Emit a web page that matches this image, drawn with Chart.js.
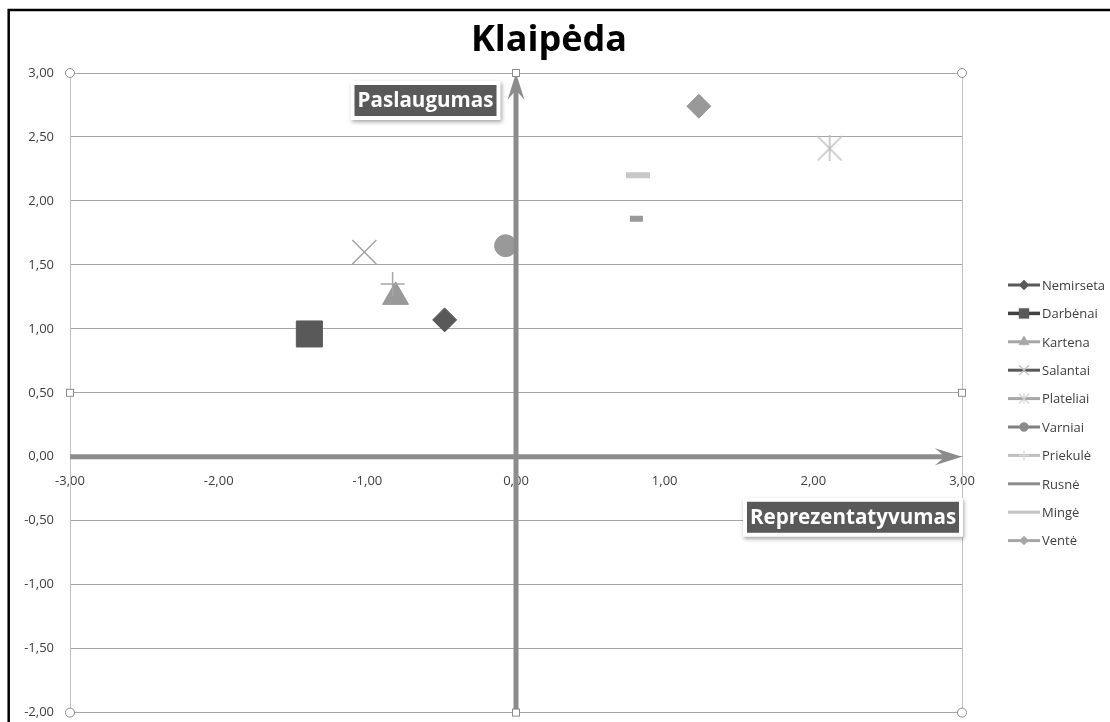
<!DOCTYPE html>
<html>
<head>
<meta charset="utf-8">
<title>Klaipėda</title>
<script src="https://cdn.jsdelivr.net/npm/chart.js@4.4.1/dist/chart.umd.min.js"></script>
<style>
  html, body { margin: 0; padding: 0; background: #fff; overflow: hidden; }
  canvas { display: block; }
</style>
</head>
<body>
<canvas id="klaipedaChart" width="1110" height="732"></canvas>
<script>
// data
const chartTitle = 'Klaipėda';
const xAxisName = 'Reprezentatyvumas';
const yAxisName = 'Paslaugumas';
const seriesNames = ['Nemirseta', 'Darbėnai', 'Kartena', 'Salantai', 'Plateliai', 'Varniai', 'Priekulė', 'Rusnė', 'Mingė', 'Ventė'];
const reprezentatyvumas = [-0.48, -1.39, -0.81, -1.02, 2.11, -0.07, -0.83, 0.81, 0.82, 1.23];
const paslaugumas = [1.07, 0.96, 1.25, 1.60, 2.41, 1.65, 1.35, 1.86, 2.20, 2.74];
const xRange = [-3, 3, 1];     // min, max, step
const yRange = [-2, 3, 0.5];

const fmt = v => v.toFixed(2).replace('.', ',');

// small asterisk marker (X with a vertical bar)
function makeAsterisk(color) {
    const c = document.createElement('canvas');
    c.width = 26; c.height = 26;
    const g = c.getContext('2d');
    g.strokeStyle = color;
    g.lineWidth = 1.5;
    g.beginPath();
    g.moveTo(1, 1); g.lineTo(25, 25);
    g.moveTo(25, 1); g.lineTo(1, 25);
    g.moveTo(13, 0); g.lineTo(13, 26);
    g.stroke();
    return c;
}

// marker styles, one per series
const markers = [
    { style: 'rectRot', radius: 12, fill: '#595959', stroke: '#595959', width: 1 },
    { style: 'rect', radius: 18.4, fill: '#595959', stroke: '#595959', width: 1 },
    { style: 'triangle', radius: 15, fill: '#999999', stroke: '#999999', width: 1 },
    { style: 'crossRot', radius: 17, fill: 'rgba(0,0,0,0)', stroke: '#a6a6a6', width: 1.5 },
    { style: makeAsterisk('#bfbfbf'), radius: 13, fill: 'rgba(0,0,0,0)', stroke: '#bfbfbf', width: 1.5 },
    { style: 'circle', radius: 11, fill: '#999999', stroke: '#999999', width: 1 },
    { style: 'cross', radius: 12, fill: 'rgba(0,0,0,0)', stroke: '#a6a6a6', width: 1.5 },
    { style: 'line', radius: 6.5, fill: '#999999', stroke: '#999999', width: 6 },
    { style: 'line', radius: 12, fill: '#c8c8c8', stroke: '#c8c8c8', width: 6 },
    { style: 'rectRot', radius: 12, fill: '#999999', stroke: '#999999', width: 1 }
];
const legendLines = ['#595959', '#404040', '#a6a6a6', '#595959', '#a6a6a6', '#7f7f7f', '#bfbfbf', '#8c8c8c', '#c4c4c4', '#a6a6a6'];
const legendMarkers = [
    { style: 'rectRot', radius: 5, fill: '#595959' },
    { style: 'rect', radius: 7, fill: '#595959' },
    { style: 'triangle', radius: 6, fill: '#a6a6a6' },
    { style: 'crossRot', radius: 7, stroke: '#bfbfbf' },
    { style: 'crossRot', radius: 7, stroke: '#d0d0d0' },
    { style: 'circle', radius: 4.5, fill: '#8c8c8c' },
    { style: 'cross', radius: 5, stroke: '#d9d9d9' },
    null,
    null,
    { style: 'rectRot', radius: 4.5, fill: '#a6a6a6' }
];

const FONT = "'Open Sans', 'Liberation Sans', sans-serif";

function drawArrow(ctx, x1, y1, x2, y2) {
    const ang = Math.atan2(y2 - y1, x2 - x1);
    const len = 27, half = 8.5, notch = 17;
    ctx.save();
    ctx.strokeStyle = '#8c8c8c';
    ctx.fillStyle = '#8c8c8c';
    ctx.lineWidth = 5;
    ctx.beginPath();
    ctx.moveTo(x1, y1);
    ctx.lineTo(x2 - Math.cos(ang) * notch, y2 - Math.sin(ang) * notch);
    ctx.stroke();
    ctx.translate(x2, y2);
    ctx.rotate(ang);
    ctx.beginPath();
    ctx.moveTo(0, 0);
    ctx.lineTo(-len, -half);
    ctx.lineTo(-notch, 0);
    ctx.lineTo(-len, half);
    ctx.closePath();
    ctx.fill();
    ctx.restore();
}

function drawTag(ctx, text, right, top, w, h) {
    const left = right - w;
    ctx.save();
    ctx.shadowColor = 'rgba(0,0,0,0.35)';
    ctx.shadowBlur = 4;
    ctx.shadowOffsetX = 1;
    ctx.shadowOffsetY = 2;
    ctx.fillStyle = '#ffffff';
    ctx.fillRect(left - 4, top - 4, w + 8, h + 8);
    ctx.restore();
    ctx.save();
    ctx.fillStyle = '#595959';
    ctx.fillRect(left, top, w, h);
    let size = 20;
    ctx.font = 'bold ' + size + 'px ' + FONT;
    size = size * (w - 6) / ctx.measureText(text).width;
    ctx.font = 'bold ' + size.toFixed(1) + 'px ' + FONT;
    ctx.fillStyle = '#ffffff';
    ctx.textAlign = 'center';
    ctx.textBaseline = 'middle';
    ctx.fillText(text, left + w / 2, top + h / 2 + 1);
    ctx.restore();
}

const decorPlugin = {
    id: 'decor',
    beforeDatasetsDraw(chart) {
        const { ctx, chartArea: a } = chart;
        ctx.save();
        ctx.strokeStyle = '#c0c0c0';
        ctx.lineWidth = 1;
        ctx.beginPath();
        ctx.moveTo(a.left + 0.5, a.top); ctx.lineTo(a.left + 0.5, a.bottom);
        ctx.moveTo(a.right + 0.5, a.top); ctx.lineTo(a.right + 0.5, a.bottom);
        ctx.stroke();
        ctx.restore();
    },
    afterDatasetsDraw(chart) {
        const { ctx, chartArea: a, scales } = chart;
        const x0 = scales.x.getPixelForValue(0);
        const y0 = scales.y.getPixelForValue(0);
        drawArrow(ctx, a.left, y0, a.right, y0);
        drawArrow(ctx, x0, a.bottom, x0, a.top);

        // selection handles round the plot area
        ctx.save();
        ctx.strokeStyle = '#8c8c8c';
        ctx.fillStyle = '#ffffff';
        ctx.lineWidth = 1;
        const midX = (a.left + a.right) / 2, midY = (a.top + a.bottom) / 2;
        [[a.left, a.top], [a.right, a.top], [a.left, a.bottom], [a.right, a.bottom]].forEach(([x, y]) => {
            ctx.beginPath();
            ctx.arc(x, y, 4.5, 0, Math.PI * 2);
            ctx.fill(); ctx.stroke();
        });
        [[midX, a.top], [midX, a.bottom], [a.left, midY], [a.right, midY]].forEach(([x, y]) => {
            ctx.fillRect(x - 3.5, y - 3.5, 7, 7);
            ctx.strokeRect(x - 3.5, y - 3.5, 7, 7);
        });
        ctx.restore();

        drawTag(ctx, yAxisName, x0 - 19.5, a.top + 12, 142, 31);
        drawTag(ctx, xAxisName, a.right - 3, y0 + 45, 212, 31);
    },
    afterDraw(chart) {
        const { ctx } = chart;
        // title
        ctx.save();
        ctx.font = 'bold 36px ' + FONT;
        ctx.fillStyle = '#000000';
        ctx.textAlign = 'center';
        ctx.textBaseline = 'alphabetic';
        ctx.fillText(chartTitle, 549, 51);
        ctx.restore();

        // legend
        ctx.save();
        ctx.font = '13px ' + FONT;
        ctx.textBaseline = 'middle';
        ctx.textAlign = 'left';
        seriesNames.forEach((name, i) => {
            const y = 285 + i * 28.4;
            ctx.strokeStyle = legendLines[i];
            ctx.lineWidth = i === 1 ? 3.5 : 3;
            ctx.beginPath();
            ctx.moveTo(1008, y); ctx.lineTo(1040, y);
            ctx.stroke();
            const m = legendMarkers[i];
            if (m) {
                ctx.fillStyle = m.fill || 'rgba(0,0,0,0)';
                ctx.strokeStyle = m.stroke || m.fill;
                ctx.lineWidth = m.stroke ? 1.2 : 0.5;
                Chart.helpers.drawPoint(ctx, { pointStyle: m.style, radius: m.radius, rotation: 0, borderWidth: ctx.lineWidth }, 1024, y);
                if (i === 4) {
                    ctx.beginPath();
                    ctx.moveTo(1024, y - 5); ctx.lineTo(1024, y + 5);
                    ctx.stroke();
                }
            }
            ctx.fillStyle = '#404040';
            ctx.fillText(name, 1042, y + 1);
        });
        ctx.restore();

        // outer frame (top and left edges)
        ctx.save();
        ctx.strokeStyle = '#000000';
        ctx.lineWidth = 2.5;
        ctx.beginPath();
        ctx.moveTo(8.7, 732); ctx.lineTo(8.7, 10); ctx.lineTo(1110, 10);
        ctx.stroke();
        ctx.restore();
    }
};

const datasets = seriesNames.map((name, i) => ({
    label: name,
    data: [{ x: reprezentatyvumas[i], y: paslaugumas[i] }],
    pointStyle: markers[i].style,
    pointRadius: markers[i].radius,
    pointHoverRadius: markers[i].radius,
    pointBackgroundColor: markers[i].fill,
    pointBorderColor: markers[i].stroke,
    pointBorderWidth: markers[i].width,
    order: -i,
    showLine: false
}));

const ctx = document.getElementById('klaipedaChart').getContext('2d');
new Chart(ctx, {
    type: 'scatter',
    data: { datasets: datasets },
    options: {
        responsive: false,
        animation: false,
        layout: { padding: { left: 0, top: 73, right: 148, bottom: 0 } },
        plugins: {
            legend: { display: false },
            title: { display: false },
            tooltip: { enabled: false }
        },
        scales: {
            x: {
                type: 'linear',
                position: { y: 0 },
                min: xRange[0],
                max: xRange[1],
                afterFit: scale => {
                    scale.paddingTop = 0;
                    scale.paddingBottom = 0;
                    scale.paddingLeft = 0;
                    scale.paddingRight = 0;
                },
                grid: { display: false, drawTicks: false },
                border: { display: false },
                ticks: {
                    stepSize: xRange[2],
                    padding: 17,
                    maxRotation: 0,
                    autoSkip: false,
                    color: '#404040',
                    font: { family: FONT, size: 13 },
                    callback: v => fmt(v)
                }
            },
            y: {
                type: 'linear',
                position: 'left',
                min: yRange[0],
                max: yRange[1],
                afterFit: scale => {
                    scale.width = 70;
                    scale.paddingTop = 0;
                    scale.paddingBottom = 0;
                },
                grid: { color: '#a6a6a6', drawTicks: false, lineWidth: 1 },
                border: { display: false },
                ticks: {
                    stepSize: yRange[2],
                    padding: 16,
                    autoSkip: false,
                    color: '#404040',
                    font: { family: FONT, size: 13 },
                    callback: v => fmt(v)
                }
            }
        }
    },
    plugins: [decorPlugin]
});
</script>
</body>
</html>
